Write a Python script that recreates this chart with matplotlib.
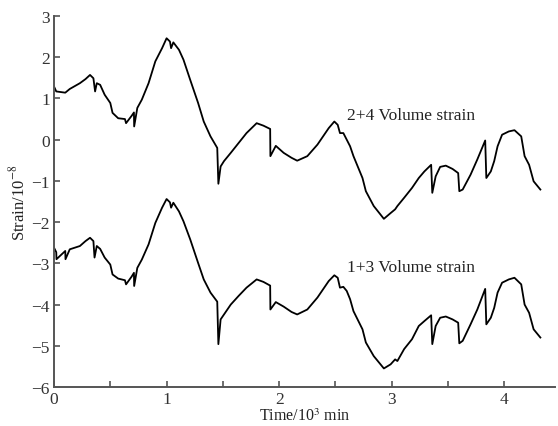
import numpy as np
import matplotlib.pyplot as plt

# time in 10^3 min, strain in 10^-8
t_upper = [0.0, 0.02, 0.1, 0.14, 0.23, 0.28, 0.32, 0.35, 0.365, 0.38, 0.41, 0.45, 0.5, 0.52,
           0.57, 0.63, 0.64, 0.69, 0.71, 0.712, 0.74, 0.78, 0.84, 0.9, 0.96, 1.0, 1.03, 1.04,
           1.06, 1.11, 1.15, 1.21, 1.28, 1.33, 1.39, 1.45, 1.46, 1.48, 1.51, 1.57, 1.64, 1.71,
           1.8, 1.86, 1.92, 1.922, 1.97, 2.04, 2.11, 2.16, 2.25, 2.34, 2.41, 2.44, 2.49, 2.52,
           2.54, 2.57, 2.6, 2.63, 2.66, 2.74, 2.77, 2.84, 2.93, 2.99, 3.03, 3.05, 3.11, 3.18,
           3.24, 3.29, 3.35, 3.36, 3.39, 3.43, 3.48, 3.54, 3.59, 3.6, 3.63, 3.7, 3.76, 3.83,
           3.84, 3.88, 3.91, 3.94, 3.98, 4.04, 4.09, 4.15, 4.18, 4.22, 4.26, 4.32]
v_upper = [1.29, 1.17, 1.14, 1.23, 1.37, 1.47, 1.57, 1.49, 1.17, 1.37, 1.33, 1.09, 0.89, 0.65,
           0.52, 0.50, 0.40, 0.58, 0.66, 0.32, 0.77, 0.97, 1.37, 1.90, 2.22, 2.46, 2.38, 2.22,
           2.36, 2.18, 1.94, 1.45, 0.89, 0.44, 0.08, -0.20, -1.07, -0.65, -0.52, -0.32, -0.08, 0.16,
           0.40, 0.34, 0.26, -0.40, -0.15, -0.32, -0.44, -0.51, -0.40, -0.12, 0.16, 0.28, 0.44, 0.36,
           0.16, 0.16, 0.0, -0.16, -0.40, -0.93, -1.25, -1.61, -1.92, -1.78, -1.69, -1.61, -1.41, -1.17,
           -0.93, -0.77, -0.61, -1.29, -0.89, -0.66, -0.63, -0.71, -0.81, -1.25, -1.21, -0.85, -0.48, -0.02,
           -0.93, -0.77, -0.52, -0.16, 0.12, 0.20, 0.23, 0.08, -0.40, -0.61, -1.01, -1.21]

t_lower = [0.0, 0.02, 0.022, 0.1, 0.102, 0.14, 0.23, 0.28, 0.32, 0.35, 0.36, 0.38, 0.41, 0.45,
           0.5, 0.52, 0.57, 0.63, 0.64, 0.69, 0.71, 0.712, 0.74, 0.78, 0.84, 0.9, 0.96, 1.0,
           1.03, 1.04, 1.06, 1.11, 1.15, 1.21, 1.28, 1.33, 1.39, 1.45, 1.46, 1.48, 1.51, 1.57,
           1.64, 1.71, 1.8, 1.86, 1.92, 1.922, 1.97, 2.04, 2.11, 2.16, 2.25, 2.34, 2.41, 2.44,
           2.49, 2.52, 2.54, 2.57, 2.6, 2.63, 2.66, 2.74, 2.77, 2.84, 2.93, 2.99, 3.03, 3.05,
           3.11, 3.18, 3.24, 3.29, 3.35, 3.36, 3.39, 3.43, 3.48, 3.54, 3.59, 3.6, 3.63, 3.7,
           3.76, 3.83, 3.84, 3.88, 3.91, 3.94, 3.98, 4.04, 4.09, 4.15, 4.18, 4.22, 4.26, 4.32]
v_lower = [-2.62, -2.73, -2.90, -2.70, -2.90, -2.66, -2.58, -2.46, -2.38, -2.46, -2.86, -2.58, -2.65, -2.86,
           -3.03, -3.27, -3.37, -3.41, -3.51, -3.32, -3.23, -3.55, -3.11, -2.91, -2.54, -2.02, -1.65, -1.44,
           -1.52, -1.65, -1.53, -1.74, -1.98, -2.42, -2.99, -3.39, -3.71, -3.93, -4.96, -4.36, -4.24, -4.00,
           -3.79, -3.59, -3.39, -3.45, -3.54, -4.12, -3.94, -4.05, -4.18, -4.24, -4.12, -3.83, -3.55, -3.43,
           -3.29, -3.35, -3.59, -3.57, -3.67, -3.87, -4.16, -4.60, -4.92, -5.25, -5.55, -5.45, -5.33, -5.37,
           -5.08, -4.84, -4.52, -4.40, -4.26, -4.96, -4.52, -4.32, -4.29, -4.36, -4.44, -4.94, -4.88, -4.48,
           -4.12, -3.62, -4.48, -4.32, -4.08, -3.71, -3.47, -3.39, -3.35, -3.51, -4.00, -4.20, -4.60, -4.80]

labels = ["2+4 Volume strain", "1+3 Volume strain"]

plt.rcParams['font.family'] = ['Liberation Serif', 'DejaVu Serif']
plt.rcParams['mathtext.fontset'] = 'stix'

fig = plt.figure(figsize=(5.58, 4.27), dpi=100)
ax = fig.add_axes([54/558, 1-388/427, (555-54)/558, (388-17)/427])

ax.plot(t_upper, v_upper, color='black', lw=1.3)
ax.plot(t_lower, v_lower, color='black', lw=1.3)

ax.text(2.6, 0.6, labels[0], fontsize=12.5, color='#222222', va='center', ha='left')
ax.text(2.6, -3.1, labels[1], fontsize=12.5, color='#222222', va='center', ha='left')

ax.set_xlim(0, 4.45)
ax.set_ylim(-6, 3)
ax.set_xticks([0, 1, 2, 3, 4])
ax.set_xticks(np.arange(0.5, 4.5, 1.0), minor=True)
ax.set_yticks(range(-6, 4))
ax.set_yticklabels(['\u22126', '\u22125', '\u22124', '\u22123', '\u22122', '\u22121', '0', '1', '2', '3'])

for s in ['top', 'right']:
    ax.spines[s].set_visible(False)
for s in ['left', 'bottom']:
    ax.spines[s].set_color('#555555')
    ax.spines[s].set_linewidth(1.4)

ax.tick_params(direction='in', length=4, width=1.2, color='#555555', labelsize=12.5,
               labelcolor='#333333', pad=3)
ax.tick_params(which='minor', direction='in', length=4, width=1.2, color='#555555')

ax.set_xlabel('Time/10$^{3}$ min', fontsize=11.5, color='#222222', va='center')
ax.set_ylabel('Strain/10$^{-8}$', fontsize=12, color='#222222', labelpad=2)
ax.xaxis.set_label_coords(0.5, -0.078)

fig.savefig('out.png', dpi=100)
